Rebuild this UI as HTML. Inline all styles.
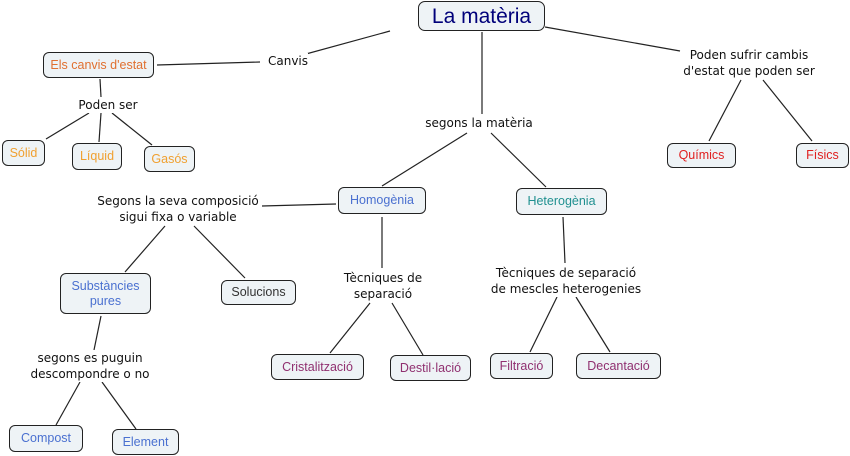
<!DOCTYPE html>
<html><head><meta charset="utf-8"><style>
body{margin:0;width:850px;height:456px;background:#fff;position:relative;overflow:hidden;font-family:"Liberation Sans","DejaVu Sans",sans-serif;}
.n{position:absolute;box-sizing:border-box;border:1px solid #222;border-radius:6px;background:#eef3f6;display:flex;align-items:center;justify-content:center;text-align:center;font-size:12.5px;line-height:15px;}
.l{position:absolute;font-family:"DejaVu Sans",sans-serif;font-size:12px;line-height:16px;text-align:center;color:#111;background:#fff;white-space:nowrap;transform:translateX(-50%);}
svg{position:absolute;left:0;top:0;}
</style></head><body>
<svg width="850" height="456" stroke="#222" stroke-width="1.2" fill="none">
<line x1="390" y1="31" x2="295" y2="57"/><line x1="157" y1="65" x2="260" y2="62"/>
<line x1="100" y1="79" x2="101" y2="97"/><line x1="89" y1="113" x2="46" y2="139"/><line x1="101" y1="113" x2="99" y2="142"/><line x1="112" y1="113" x2="152" y2="145"/>
<line x1="482" y1="32" x2="482" y2="114"/><line x1="467" y1="133" x2="382" y2="186"/><line x1="491" y1="133" x2="546" y2="187"/>
<line x1="545" y1="27" x2="680" y2="51"/><line x1="741" y1="80" x2="709" y2="141"/><line x1="763" y1="80" x2="812" y2="141"/>
<line x1="336" y1="204" x2="262" y2="206"/><line x1="165" y1="226" x2="125" y2="272"/><line x1="194" y1="226" x2="245" y2="278"/>
<line x1="382" y1="217" x2="382" y2="268"/><line x1="370" y1="303" x2="330" y2="353"/><line x1="392" y1="303" x2="423" y2="355"/>
<line x1="563" y1="217" x2="565" y2="263"/><line x1="557" y1="297" x2="530" y2="352"/><line x1="576" y1="297" x2="610" y2="352"/>
<line x1="101" y1="316" x2="94" y2="350"/><line x1="80" y1="382" x2="56" y2="425"/><line x1="102" y1="382" x2="136" y2="429"/>
</svg>
<div class="n" style="left:418px;top:1px;width:127px;height:30px;font-size:21px;color:#00007a;border-radius:7px">La matèria</div>
<div class="n" style="left:43px;top:52px;width:111px;height:26px;color:#e07030">Els canvis d'estat</div>
<div class="n" style="left:2px;top:140px;width:43px;height:26px;color:#f0a030">Sólid</div>
<div class="n" style="left:72px;top:143px;width:50px;height:27px;color:#f0a030">Líquid</div>
<div class="n" style="left:144px;top:146px;width:51px;height:26px;color:#f0a030">Gasós</div>
<div class="n" style="left:338px;top:187px;width:88px;height:27px;color:#4a70d0">Homogènia</div>
<div class="n" style="left:516px;top:188px;width:91px;height:27px;color:#209090">Heterogènia</div>
<div class="n" style="left:667px;top:143px;width:69px;height:25px;color:#e02020">Químics</div>
<div class="n" style="left:796px;top:143px;width:53px;height:25px;color:#e02020">Físics</div>
<div class="n" style="left:60px;top:273px;width:91px;height:41px;color:#4a70d0">Substàncies<br>pures</div>
<div class="n" style="left:221px;top:280px;width:75px;height:25px;color:#333">Solucions</div>
<div class="n" style="left:271px;top:354px;width:93px;height:26px;color:#903070">Cristalització</div>
<div class="n" style="left:390px;top:355px;width:81px;height:26px;color:#903070">Destil·lació</div>
<div class="n" style="left:490px;top:353px;width:63px;height:26px;color:#903070">Filtració</div>
<div class="n" style="left:576px;top:353px;width:85px;height:26px;color:#903070">Decantació</div>
<div class="n" style="left:9px;top:425px;width:74px;height:27px;color:#4a70d0">Compost</div>
<div class="n" style="left:112px;top:429px;width:67px;height:26px;color:#4a70d0">Element</div>
<div class="l" style="left:288px;top:53px">Canvis</div>
<div class="l" style="left:108px;top:97px">Poden ser</div>
<div class="l" style="left:479px;top:115px">segons la matèria</div>
<div class="l" style="left:749px;top:47px">Poden sufrir cambis<br>d'estat que poden ser</div>
<div class="l" style="left:178px;top:193px">Segons la seva composició<br>sigui fixa o variable</div>
<div class="l" style="left:383px;top:270px">Tècniques de<br>separació</div>
<div class="l" style="left:566px;top:265px">Tècniques de separació<br>de mescles heterogenies</div>
<div class="l" style="left:90px;top:350px">segons es puguin<br>descompondre o no</div>
</body></html>
